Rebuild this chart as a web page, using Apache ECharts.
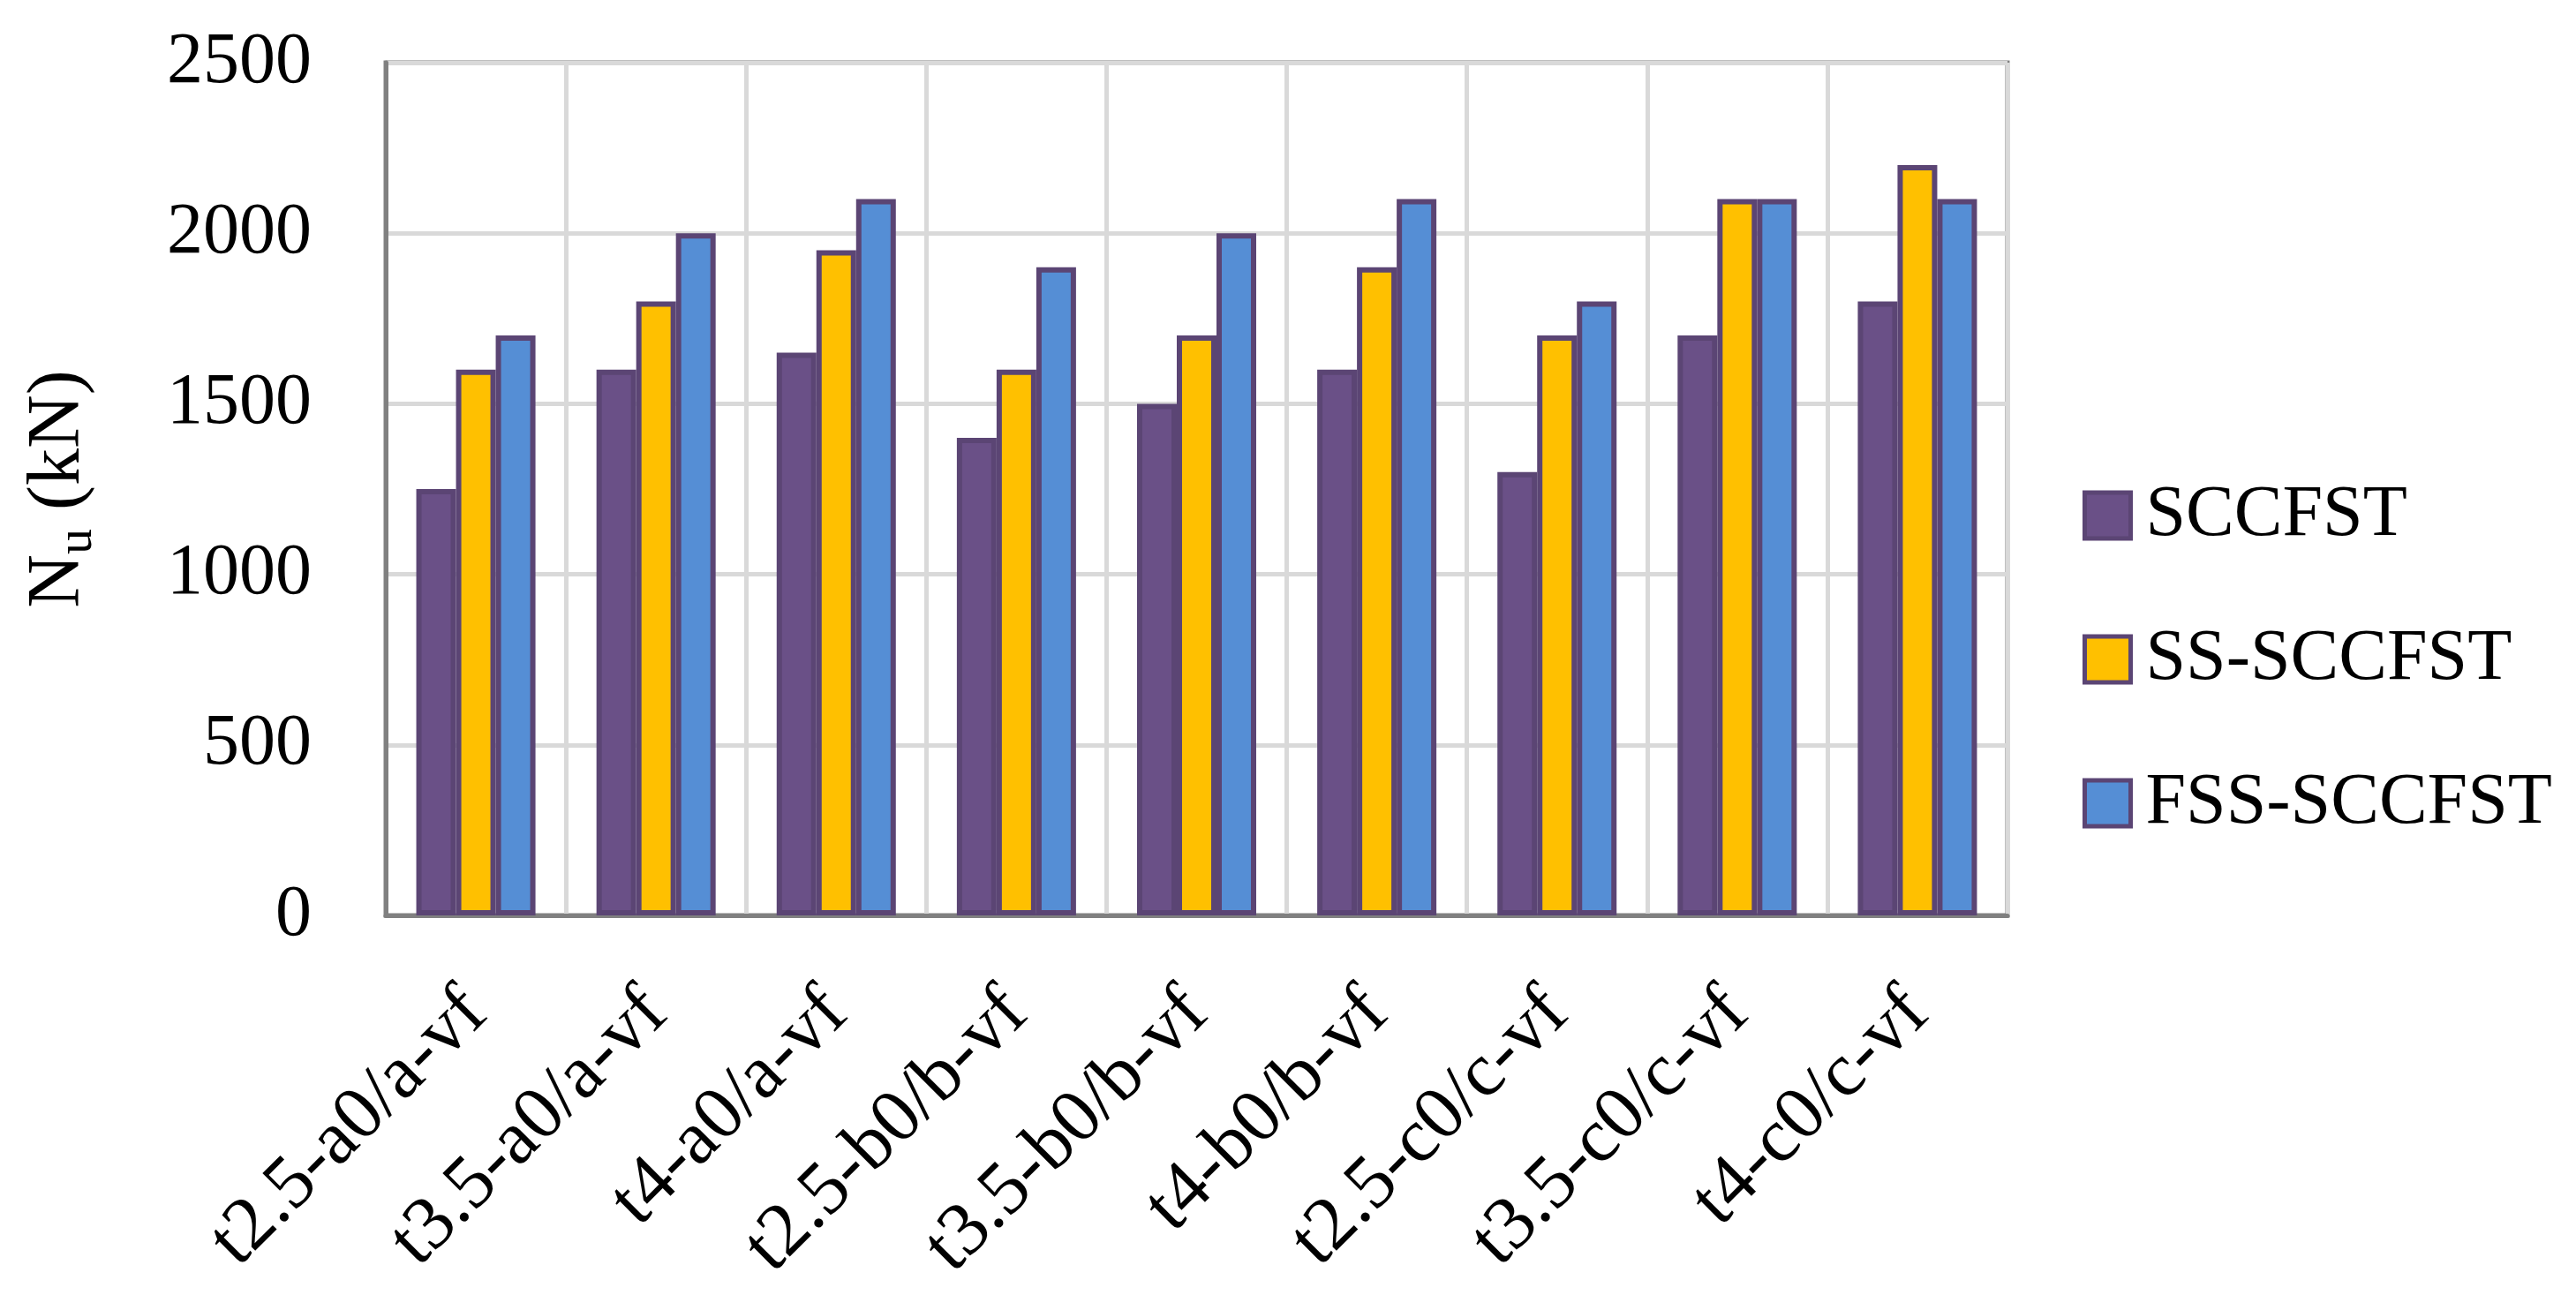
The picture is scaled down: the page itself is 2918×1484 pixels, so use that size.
<!DOCTYPE html>
<html><head><meta charset="utf-8">
<script src="https://cdn.jsdelivr.net/npm/echarts@6/dist/echarts.min.js"></script>
<style>html,body{margin:0;padding:0;background:#fff}#c{width:2918px;height:1484px}</style>
</head><body><div id="c"></div>
<script>
const categories = ['t2.5-a0/a-vf','t3.5-a0/a-vf','t4-a0/a-vf','t2.5-b0/b-vf','t3.5-b0/b-vf','t4-b0/b-vf','t2.5-c0/c-vf','t3.5-c0/c-vf','t4-c0/c-vf'];
const seriesNames = ['SCCFST','SS-SCCFST','FSS-SCCFST'];
const sccfst = [1250,1600,1650,1400,1500,1600,1300,1700,1800];
const ssSccfst = [1600,1800,1950,1600,1700,1900,1700,2100,2200];
const fssSccfst = [1700,2000,2100,1900,2000,2100,1800,2100,2100];
const yMin = 0, yMax = 2500, yStep = 500;

const FONT = "'Liberation Serif','Times New Roman',serif";
const colors = ['#6A5087','#FFC000','#558ED5'];
const edge = '#5B4574';
const values = [sccfst, ssSccfst, fssSccfst];

const chart = echarts.init(document.getElementById('c'), null, {renderer:'canvas'});
chart.setOption({
  backgroundColor:'#fff',
  animation:false,
  grid:{left:437,right:644,top:71,bottom:447,show:true,borderColor:'#808080',borderWidth:5,backgroundColor:'transparent',containLabel:false},
  legend:{
    orient:'vertical', left:2354, top:538,
    itemWidth:52, itemHeight:52, itemGap:81, icon:'rect',
    itemStyle:{borderWidth:5, borderColor:edge},
    textStyle:{fontSize:82, lineHeight:82, color:'#000', fontFamily:FONT, padding:[0,0,0,12]},
    data:seriesNames
  },
  xAxis:{
    type:'category', data:categories, boundaryGap:true,
    axisLine:{show:true, lineStyle:{color:'#808080', width:5}},
    axisTick:{show:false},
    splitLine:{show:true, lineStyle:{color:'#D9D9D9', width:5}},
    axisLabel:{rotate:45, interval:0, fontSize:86, color:'#000', fontFamily:FONT, margin:98}
  },
  yAxis:{
    type:'value', min:yMin, max:yMax, interval:yStep,
    axisLine:{show:true, lineStyle:{color:'#808080', width:5}},
    axisTick:{show:false},
    splitLine:{show:true, lineStyle:{color:'#D9D9D9', width:5}},
    axisLabel:{fontSize:82, color:'#000', fontFamily:FONT, margin:84, formatter:(v)=>String(v)},
    name:'{n|N}{s|u}{n| (kN)}', nameLocation:'middle', nameGap:320, nameRotate:90,
    nameTextStyle:{
      color:'#000', fontFamily:FONT,
      rich:{
        n:{fontSize:84, lineHeight:100, fontFamily:FONT, color:'#000'},
        s:{fontSize:58, lineHeight:40, verticalAlign:'bottom', fontFamily:FONT, color:'#000'}
      }
    }
  },
  series: seriesNames.map((name,i)=>({
    name, type:'bar', data:values[i], barWidth:45, barGap:'0%',
    itemStyle:{color:colors[i], borderColor:edge, borderWidth:6}
  }))
});
</script></body></html>
